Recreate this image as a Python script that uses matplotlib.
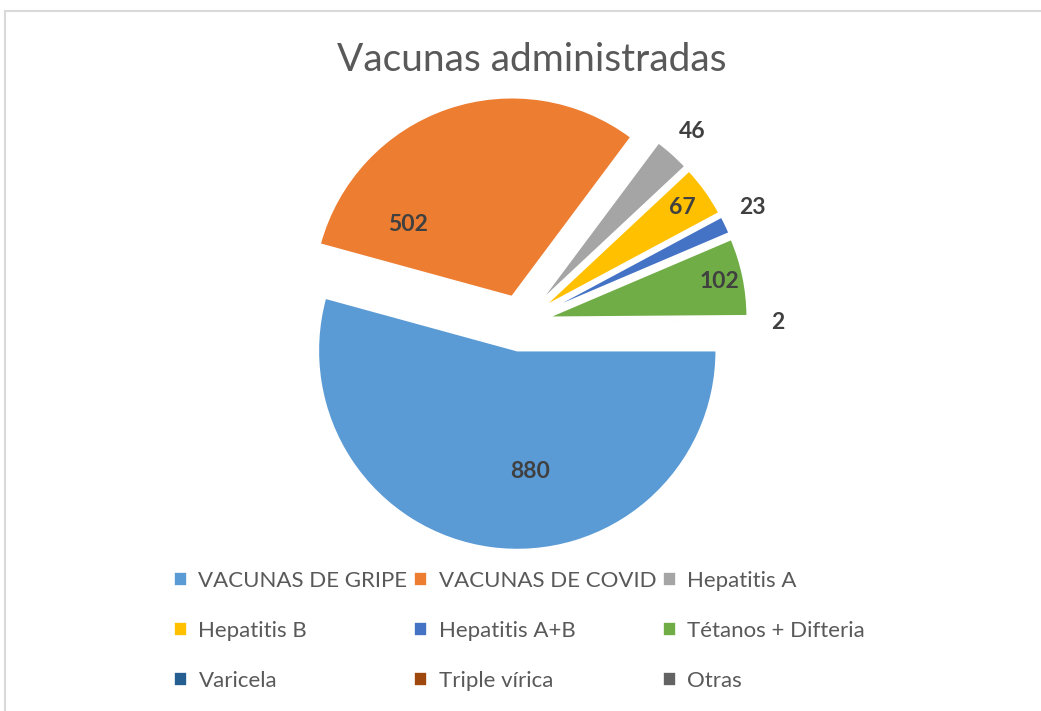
import numpy as np
import matplotlib.pyplot as plt
from matplotlib.patches import Rectangle

plt.rcParams['font.family'] = ['Lato', 'DejaVu Sans']

# datos de vacunas
categorias = ['VACUNAS DE GRIPE', 'VACUNAS DE COVID', 'Hepatitis A',
              'Hepatitis B', 'Hepatitis A+B', 'Tétanos + Difteria',
              'Varicela', 'Triple vírica', 'Otras']
valores = [880, 502, 46, 67, 23, 102, 2, 0, 0]
colores = ['#5B9BD5', '#ED7D31', '#A5A5A5', '#FFC000', '#4472C4',
           '#70AD47', '#255E91', '#9E480E', '#636363']

# posicion de las etiquetas: radio y giro respecto al centro de cada porcion
etq_radio = [0.75, 0.752, 1.29, 1.0, 1.3, 1.018, 1.29]
etq_giro = [11, 30, 0, 0, 1, 0, 0]

W, H = 1041, 711
fig = plt.figure(figsize=(W / 100, H / 100), dpi=100)

# marco gris del grafico
fig.patches.append(Rectangle((5 / W, -0.1), 1.2, 1 - 11 / H + 0.1,
                             transform=fig.transFigure, fill=False,
                             edgecolor='#D9D9D9', linewidth=1.5))

# ejes para la tarta: centro en (521, 323) px, radio 199 px
cx, cy, r, half = 521, 323, 199, 300
ax = fig.add_axes([(cx - half) / W, (H - cy - half) / H, 2 * half / W, 2 * half / H])

cunas, _ = ax.pie(valores, colors=colores, startangle=0, counterclock=False,
                  explode=[0.14] * len(valores), radius=1,
                  wedgeprops=dict(edgecolor='white', linewidth=1.2))
ax.set_xlim(-half / r, half / r)
ax.set_ylim(-half / r, half / r)
ax.axis('off')

for i, v in enumerate(valores):
    if v == 0:
        continue
    c = cunas[i]
    ang = np.deg2rad((c.theta1 + c.theta2) / 2 + etq_giro[i])
    ax.text(etq_radio[i] * np.cos(ang), etq_radio[i] * np.sin(ang), str(v),
            ha='center', va='center', fontsize=16.5, fontweight='bold',
            color='#404040')

fig.text(532 / W, 1 - 60 / H, 'Vacunas administradas', ha='center',
         va='center', fontsize=28, color='#595959')

# leyenda en filas de tres
orden = [0, 3, 6, 1, 4, 7, 2, 5, 8]
fig.legend([cunas[i] for i in orden], [categorias[i] for i in orden],
           ncol=3, loc='upper left', bbox_to_anchor=(174 / W, 1 - 571 / H),
           frameon=False, fontsize=16, labelcolor='#595959',
           handlelength=0.6, handleheight=0.6, handletextpad=0.5,
           labelspacing=1.35, columnspacing=0.3, borderpad=0, borderaxespad=0)

fig.savefig('out.png', dpi=100)
